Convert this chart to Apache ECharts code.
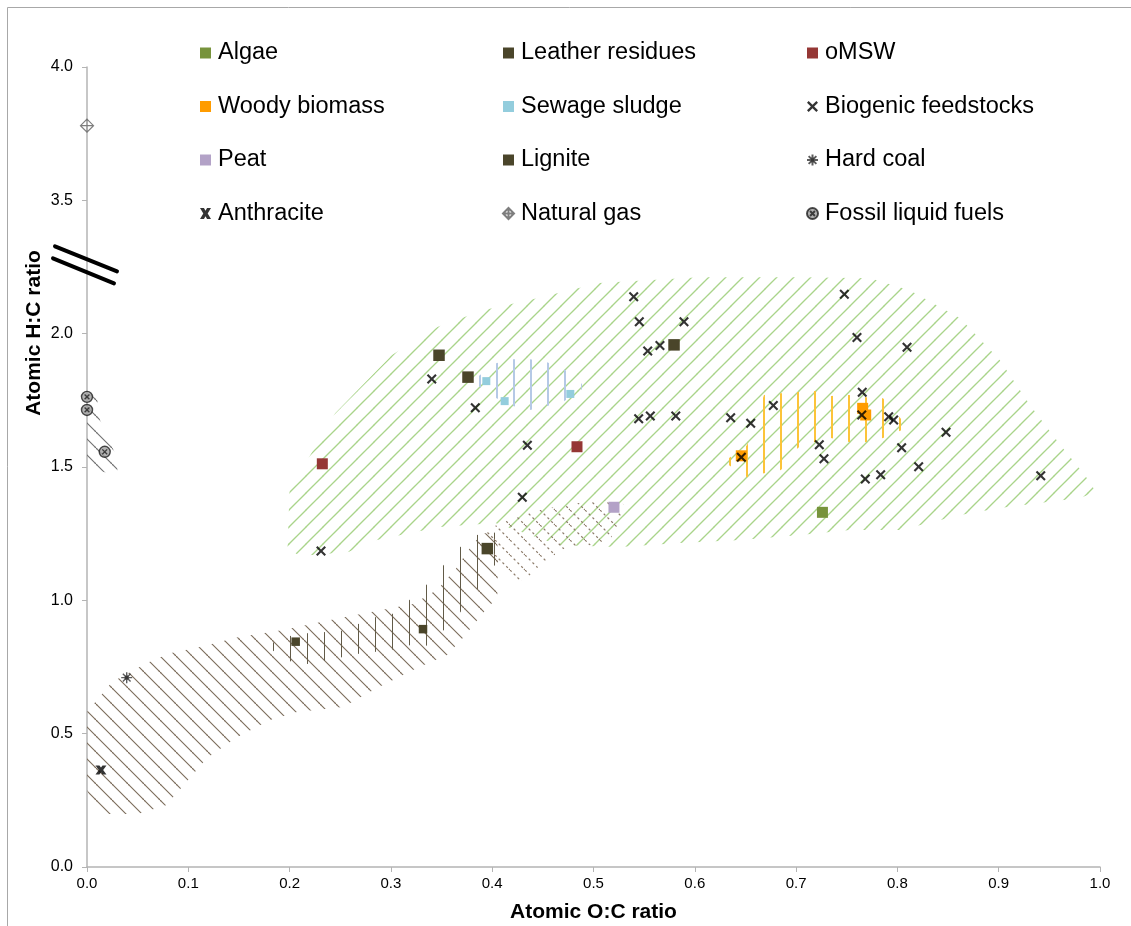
<!DOCTYPE html>
<html><head><meta charset="utf-8">
<script src="https://cdn.jsdelivr.net/npm/echarts@6.0.0/dist/echarts.min.js"></script>
<style>html,body{margin:0;padding:0;background:#fff}#c{width:1131px;height:926px}</style>
</head><body><div id="c"></div>
<script>
// ---------- data (atomic O:C, atomic H:C) ----------
const xTicks = [0, 0.1, 0.2, 0.3, 0.4, 0.5, 0.6, 0.7, 0.8, 0.9, 1.0];
const algae = [[0.726, 1.33]];
const leatherResidues = [[0.3475, 1.919], [0.3761, 1.837], [0.5795, 1.958], [0.3952, 1.194]];
const oMSW = [[0.2323, 1.512], [0.4837, 1.576]];
const woodyBiomass = [[0.6459, 1.542], [0.7657, 1.720], [0.7687, 1.695]];
const sewageSludge = [[0.3942, 1.822], [0.4123, 1.747], [0.4771, 1.774]];
const peat = [[0.5202, 1.349]];
const lignite = [[0.206, 0.845], [0.3317, 0.892]];
const hardCoal = [[0.0392, 0.71]];
const anthracite = [[0.0138, 0.364]];
const naturalGas = [[0.0, 3.78]];
const fossilLiquidFuels = [[0.0, 1.763], [0.0, 1.714], [0.0175, 1.557]];
const biogenicFeedstocks = [
  [0.3403, 1.830], [0.3833, 1.722], [0.2310, 1.185], [0.4347, 1.582], [0.4297, 1.387],
  [0.5397, 2.138], [0.5452, 2.045], [0.5893, 2.045], [0.5535, 1.935], [0.5656, 1.956],
  [0.5446, 1.681], [0.5561, 1.691], [0.5812, 1.691], [0.6354, 1.685], [0.6552, 1.664],
  [0.6775, 1.731], [0.6459, 1.537], [0.7476, 2.148], [0.7601, 1.986], [0.8095, 1.949],
  [0.7653, 1.780], [0.7648, 1.695], [0.7914, 1.688], [0.7963, 1.676], [0.8480, 1.630],
  [0.7229, 1.583], [0.7275, 1.531], [0.8042, 1.572], [0.8210, 1.501], [0.7683, 1.455],
  [0.7835, 1.471], [0.9415, 1.467]
];
// hatched regions (boundary vertices in data units)
const biomassRegion = [
  [0.198, 1.196], [0.200, 1.414], [0.245, 1.702], [0.301, 1.920], [0.346, 2.025], [0.391, 2.088],
  [0.437, 2.126], [0.506, 2.190], [0.605, 2.212], [0.704, 2.212], [0.773, 2.208], [0.812, 2.163],
  [0.862, 2.058], [0.901, 1.901], [0.931, 1.732], [0.961, 1.582], [0.985, 1.470], [0.996, 1.406],
  [0.980, 1.384], [0.948, 1.369], [0.901, 1.346], [0.862, 1.320], [0.803, 1.264], [0.753, 1.264],
  [0.704, 1.245], [0.645, 1.226], [0.585, 1.215], [0.526, 1.200], [0.467, 1.207], [0.403, 1.290],
  [0.348, 1.275], [0.286, 1.226], [0.258, 1.181], [0.210, 1.166]
];
const coalRegion = [
  [0, 0.581], [0.0099, 0.626], [0.0247, 0.694], [0.0592, 0.765], [0.0819, 0.802], [0.1115, 0.825],
  [0.149, 0.862], [0.1935, 0.889], [0.2498, 0.934], [0.3218, 0.986], [0.3455, 1.039], [0.3633, 1.114],
  [0.378, 1.196], [0.390, 1.252], [0.403, 1.252], [0.406, 1.189], [0.405, 1.009], [0.395, 0.971],
  [0.371, 0.859], [0.3554, 0.795], [0.3258, 0.746], [0.2863, 0.671], [0.2527, 0.600], [0.2073, 0.581],
  [0.1807, 0.551], [0.148, 0.487], [0.1185, 0.409], [0.0938, 0.300], [0.078, 0.232], [0.0503, 0.199],
  [0.0158, 0.199], [0.0049, 0.244], [0, 0.289]
];
const ligniteRegion = [
  [0.1826, 0.840], [0.2004, 0.866], [0.2172, 0.877], [0.2507, 0.885], [0.2843, 0.937], [0.3001, 0.945],
  [0.3169, 0.997], [0.3347, 1.057], [0.3504, 1.125], [0.3672, 1.196], [0.385, 1.245], [0.4008, 1.256],
  [0.4077, 1.245], [0.4077, 1.151], [0.4008, 1.125], [0.385, 1.039], [0.3672, 0.949], [0.3504, 0.881],
  [0.3347, 0.829], [0.3169, 0.832], [0.3001, 0.814], [0.2665, 0.799], [0.233, 0.772], [0.2172, 0.761],
  [0.2004, 0.772], [0.1826, 0.814]
];
const peatRegion = [
  [0.3909, 1.252], [0.4077, 1.290], [0.4373, 1.331], [0.4669, 1.354], [0.4965, 1.372], [0.5212, 1.376],
  [0.5311, 1.357], [0.5262, 1.301], [0.5163, 1.226], [0.4965, 1.207], [0.4719, 1.196], [0.4472, 1.132],
  [0.4324, 1.076], [0.4176, 1.065], [0.4028, 1.132], [0.3929, 1.207]
];
const sludgeRegion = [
  [0.385, 1.837], [0.4038, 1.889], [0.4205, 1.904], [0.4373, 1.904], [0.4541, 1.893], [0.4709, 1.867],
  [0.4886, 1.811], [0.4886, 1.792], [0.4709, 1.747], [0.4541, 1.729], [0.4373, 1.714], [0.4205, 1.729],
  [0.4038, 1.759], [0.385, 1.807]
];
const woodyRegion = [
  [0.6338, 1.534], [0.6515, 1.582], [0.6683, 1.770], [0.6851, 1.777], [0.7019, 1.781], [0.7187, 1.785],
  [0.7344, 1.766], [0.7522, 1.770], [0.7690, 1.762], [0.7858, 1.758], [0.8045, 1.676], [0.8045, 1.639],
  [0.7858, 1.609], [0.7690, 1.594], [0.7522, 1.594], [0.7344, 1.609], [0.7187, 1.594], [0.7019, 1.572],
  [0.6851, 1.489], [0.6683, 1.477], [0.6515, 1.462], [0.6338, 1.507]
];
const liquidRegion = [
  [0, 1.777], [0.0099, 1.759], [0.0128, 1.676], [0.0306, 1.526], [0.0296, 1.470], [0.0079, 1.489], [0, 1.526]
];

// ---------- broken y axis: real values above the break are shifted down by 1 ----------
const brk = v => (v > 2.5 ? v - 1 : v);
const mapPts = arr => arr.map(p => [p[0], brk(p[1])]);

// ---------- hatch patterns ----------
function tile(w, h, draw) {
  const c = document.createElement('canvas');
  c.width = w; c.height = h;
  const ctx = c.getContext('2d');
  draw(ctx, w, h);
  return { image: c, repeat: 'repeat' };
}
function diag(w, color, lw, up, dash) {
  return tile(w, w, (ctx) => {
    ctx.strokeStyle = color; ctx.lineWidth = lw;
    if (dash) ctx.setLineDash(dash);
    const segs = up
      ? [[0, w, w, 0], [-w, w, 0, 0], [w, w, 2 * w, 0], [-1, 1, 1, -1], [w - 1, w + 1, w + 1, w - 1]]
      : [[0, 0, w, w], [-w, 0, 0, w], [w, 0, 2 * w, w], [-1, -1, 1, 1], [w - 1, w - 1, w + 1, w + 1]];
    segs.forEach(s => { ctx.beginPath(); ctx.moveTo(s[0], s[1]); ctx.lineTo(s[2], s[3]); ctx.stroke(); });
  });
}
function vert(w, off, color, lw) {
  return tile(w, 4, (ctx) => { ctx.fillStyle = color; ctx.fillRect(off, 0, lw, 4); });
}
const patGreen = diag(17, '#a9d48a', 1.3, true);
const patCoal = diag(16, '#7a6a58', 1.1, false);
const patPeat = diag(15, '#8e7d6c', 1.2, false, [2.3, 3]);
const patLignite = vert(17, 1, '#625b48', 1);
const patSludge = vert(17, 3, '#b5c9e6', 2);
const patWoody = vert(17, 15, '#fcc43a', 2);
const patLiquid = diag(16, '#6f6f6f', 1.1, false);

function region(name, pts, pat) {
  return {
    type: 'custom', name: name, silent: true, clip: true, z: 1,
    data: [pts[0]],
    renderItem: (params, api) => ({
      type: 'polygon',
      shape: { points: pts.map(p => api.coord([p[0], brk(p[1])])) },
      style: { fill: pat, stroke: null }
    })
  };
}

// ---------- symbols ----------
const crossSym = 'path://M0,1.5L1.5,0L5,3.5L8.5,0L10,1.5L6.5,5L10,8.5L8.5,10L5,6.5L1.5,10L0,8.5L3.5,5Z';
const anthraciteSym = 'path://M0,0L3.6,0L5,2.4L6.4,0L10,0L7,5L10,10L6.4,10L5,7.6L3.6,10L0,10L3,5Z';
const hardCoalSym = 'path://M5,0L5,10M0,5L10,5M1.5,1.5L8.5,8.5M8.5,1.5L1.5,8.5M3.5,3.5L6.5,3.5L6.5,6.5L3.5,6.5Z';
const gasSym = 'path://M5,0L10,5L5,10L0,5Z M5,0L5,10 M0,5L10,5';
const liquidSym = 'path://M10,5A5,5,0,1,1,0,5A5,5,0,1,1,10,5Z M2.8,2.8L7.2,7.2 M7.2,2.8L2.8,7.2';

function sq(name, data, color, size) {
  return { type: 'scatter', name: name, data: mapPts(data), symbol: 'rect', symbolSize: size, z: 3,
    itemStyle: { color: color, opacity: 1 } };
}

const FONT = '"Liberation Sans", Arial, sans-serif';
const chart = echarts.init(document.getElementById('c'), null, { renderer: 'canvas' });

const legendBase = {
  orient: 'vertical', top: 41, padding: 0, itemWidth: 11, itemHeight: 11, itemGap: 29.5,
  selectedMode: false,
  textStyle: { fontSize: 23.5, lineHeight: 24, color: '#000', fontFamily: FONT, padding: [0, 0, 0, 2] }
};

chart.setOption({
  animation: false,
  backgroundColor: '#fff',
  textStyle: { fontFamily: FONT },
  grid: { left: 87, right: 31, top: 67, bottom: 59, containLabel: false, outerBoundsMode: 'none' },
  legend: [
    Object.assign({}, legendBase, { left: 200, data: ['Algae', 'Woody biomass', 'Peat', 'Anthracite'] }),
    Object.assign({}, legendBase, { left: 502, data: ['Leather residues', 'Sewage sludge', 'Lignite', 'Natural gas'] }),
    Object.assign({}, legendBase, { left: 806, data: ['oMSW', 'Biogenic feedstocks', 'Hard coal', 'Fossil liquid fuels'] })
  ],
  xAxis: {
    type: 'value', min: 0, max: 1, interval: 0.1,
    name: 'Atomic O:C ratio', nameLocation: 'middle', nameGap: 35,
    nameTextStyle: { fontSize: 21, fontWeight: 'bold', color: '#000', fontFamily: FONT },
    axisLine: { show: true, onZero: false, lineStyle: { color: '#b4b4b4', width: 1.5 } },
    axisTick: { show: true, length: 5, lineStyle: { color: '#b4b4b4', width: 1 } },
    axisLabel: { fontSize: 15, color: '#000', margin: 9, fontFamily: FONT,
      formatter: v => { const t = xTicks.find(q => Math.abs(q - v) < 1e-9); return (t === undefined ? v : t).toFixed(1); } },
    splitLine: { show: false }
  },
  yAxis: {
    type: 'value', min: 0, max: 3, interval: 0.5,
    axisLine: { show: true, onZero: false, lineStyle: { color: '#b4b4b4', width: 1.5 } },
    axisTick: { show: true, length: 5, lineStyle: { color: '#b4b4b4', width: 1 } },
    axisLabel: { fontSize: 16, color: '#000', margin: 14, fontFamily: FONT,
      formatter: v => (v > 2.25 ? v + 1 : v).toFixed(1) },
    splitLine: { show: false }
  },
  series: [
    region('biomass area', biomassRegion, patGreen),
    region('coal area', coalRegion, patCoal),
    region('lignite area', ligniteRegion, patLignite),
    region('peat area', peatRegion, patPeat),
    region('sludge area', sludgeRegion, patSludge),
    region('woody area', woodyRegion, patWoody),
    region('liquid area', liquidRegion, patLiquid),
    sq('Algae', algae, '#77933c', 11),
    sq('Leather residues', leatherResidues, '#4a452a', 11.5),
    sq('oMSW', oMSW, '#953735', 11),
    sq('Woody biomass', woodyBiomass, '#ff9c00', 11),
    sq('Sewage sludge', sewageSludge, '#93cddd', 8),
    sq('Peat', peat, '#b3a2c7', 11),
    sq('Lignite', lignite, '#4a452a', 8.5),
    { type: 'scatter', name: 'Biogenic feedstocks', data: mapPts(biogenicFeedstocks), symbol: crossSym, symbolSize: 10, z: 4,
      itemStyle: { color: '#000' } },
    { type: 'scatter', name: 'Hard coal', data: mapPts(hardCoal), symbol: hardCoalSym, symbolSize: 11, z: 4,
      itemStyle: { color: '#222', borderColor: '#333', borderWidth: 1.4 } },
    { type: 'scatter', name: 'Anthracite', data: mapPts(anthracite), symbol: anthraciteSym, symbolSize: [11, 9], z: 4,
      itemStyle: { color: '#000' } },
    { type: 'scatter', name: 'Natural gas', data: mapPts(naturalGas), symbol: gasSym, symbolSize: 13, z: 4,
      itemStyle: { color: '#fff', borderColor: '#5e5e5e', borderWidth: 1.2 } },
    { type: 'scatter', name: 'Fossil liquid fuels', data: mapPts(fossilLiquidFuels), symbol: liquidSym, symbolSize: 11, z: 4,
      itemStyle: { color: '#a0a0a0', borderColor: '#1e1e1e', borderWidth: 1.4 } }
  ]
});

const ax = chart.convertToPixel({ xAxisIndex: 0 }, 0);
const yb = chart.convertToPixel({ yAxisIndex: 0 }, 2.26);
chart.setOption({
  graphic: [
    { type: 'polyline', silent: true, shape: { points: [[7.5, 926], [7.5, 7.5], [1131, 7.5]] },
      style: { stroke: '#a8a8a8', lineWidth: 1, fill: null } },
    { type: 'line', silent: true, z: 10, shape: { x1: ax - 32, y1: yb - 18, x2: ax + 30, y2: yb + 7 },
      style: { stroke: '#000', lineWidth: 4, lineCap: 'round' } },
    { type: 'line', silent: true, z: 10, shape: { x1: ax - 34, y1: yb - 6, x2: ax + 27, y2: yb + 19 },
      style: { stroke: '#000', lineWidth: 4, lineCap: 'round' } },
    { type: 'text', silent: true, x: 34, y: 333, rotation: Math.PI / 2,
      style: { text: 'Atomic H:C ratio', font: 'bold 21px ' + FONT, fill: '#000', align: 'center', verticalAlign: 'middle' } }
  ]
});
</script></body></html>
